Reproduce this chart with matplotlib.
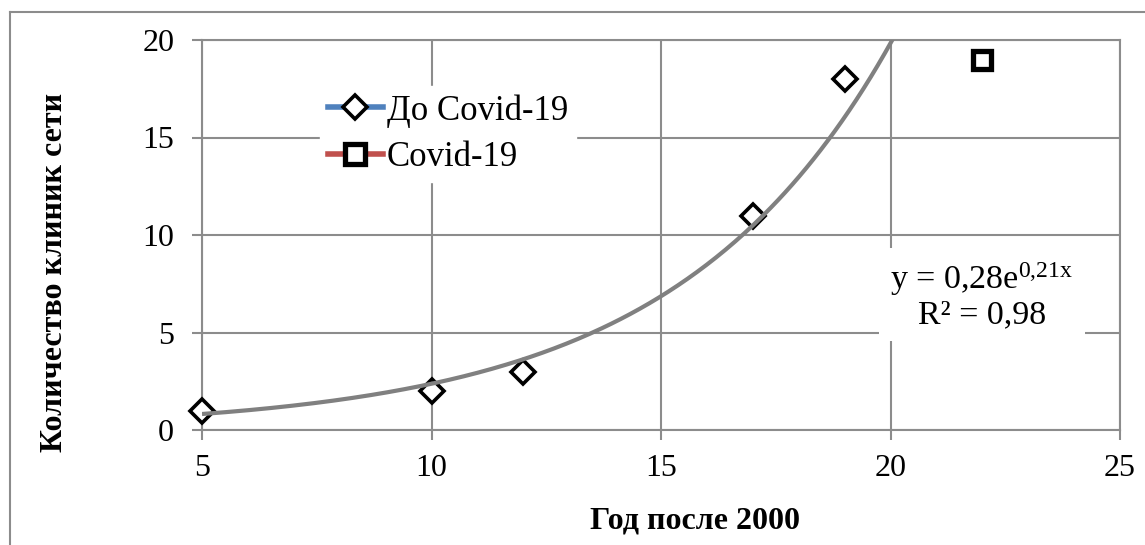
import matplotlib
matplotlib.use("Agg")
import matplotlib.pyplot as plt
from matplotlib.lines import Line2D
import numpy as np

# data
years_before = [5, 10, 12, 17, 19]
clinics_before = [1, 2, 3, 11, 18]
years_covid = [22]
clinics_covid = [19]

plt.rcParams['font.family'] = ['Liberation Serif', 'DejaVu Serif']
plt.rcParams['mathtext.fontset'] = 'custom'
plt.rcParams['mathtext.rm'] = 'Liberation Serif'
plt.rcParams['mathtext.it'] = 'Liberation Serif'
grey = '#8c8c8c'

fig = plt.figure(figsize=(11.45, 5.45), dpi=100)
ax = fig.add_axes([202/1145, 1-430/545, (1120-202)/1145, (430-40)/545])

# exponential trend on the pre-covid points
b, lna = np.polyfit(years_before, np.log(clinics_before), 1)
a = np.exp(lna)
xs = np.linspace(5, 20.5, 300)
ax.plot(xs, a*np.exp(b*xs), color='#808080', lw=3, zorder=5, solid_capstyle='butt')

ax.plot(years_before, clinics_before, ls='none', marker='D', ms=12.5, mfc='white',
        mec='black', mew=2.6, zorder=4, clip_on=False)
ax.plot(years_covid, clinics_covid, ls='none', marker='s', ms=13, mfc='white',
        mec='black', mew=3.8, zorder=4, clip_on=False)

ax.set_xlim(5, 25)
ax.set_ylim(0, 20)
ax.set_xticks([5, 10, 15, 20, 25])
ax.set_yticks([0, 5, 10, 15, 20])
ax.grid(True, color=grey, lw=1.5)
ax.set_axisbelow(True)
for s in ax.spines.values():
    s.set_color(grey)
    s.set_linewidth(1.5)
ax.tick_params(axis='both', direction='out', length=7, width=1.5, color=grey,
               labelsize=23)
ax.tick_params(axis='y', pad=13)
ax.tick_params(axis='x', pad=10)

# legend
h1 = Line2D([], [], color='#4F81BD', lw=4, marker='D', ms=12, mfc='white',
            mec='black', mew=2.6)
h2 = Line2D([], [], color='#C0504D', lw=4, marker='s', ms=14, mfc='white',
            mec='black', mew=3.8)
leg = ax.legend([h1, h2], ['До Covid-19', 'Covid-19'], loc='upper left',
                bbox_to_anchor=(0.1285, 0.882), borderaxespad=0, fontsize=25,
                frameon=True, fancybox=False, edgecolor='white', framealpha=1,
                handlelength=1.58, handletextpad=0.12, labelspacing=0.38,
                borderpad=0.23)
leg.set_zorder(6)

# trend equation
eq = ('y = ' + f'{a:.2f}'.replace('.', ',') + 'e$^{\\mathrm{'
      + f'{b:.2f}'.replace('.', '{,}') + 'x}}$')
r2 = 1 - np.sum((np.log(clinics_before) - (lna + b*np.array(years_before)))**2) / \
    np.sum((np.log(clinics_before) - np.mean(np.log(clinics_before)))**2)
ax.text(21.99, 6.9, eq + '\nR² = ' + f'{r2:.2f}'.replace('.', ','), fontsize=24.5,
        ha='center', va='center', linespacing=1.05, zorder=6,
        bbox=dict(facecolor='white', edgecolor='none', pad=8))

fig.text(695/1145, 1-521/545, 'Год после 2000', fontsize=23, fontweight='bold',
         ha='center', va='center')
fig.text(55/1145, 1-272/545, 'Количество клиник сети', fontsize=23,
         fontweight='bold', rotation=90, ha='center', va='center')

# outer chart border
fig.add_artist(Line2D([10/1145, 10/1145], [0, 1-12/545], color=grey, lw=1.5))
fig.add_artist(Line2D([10/1145, 1], [1-12/545, 1-12/545], color=grey, lw=1.5))

fig.savefig('out.png', dpi=100)
